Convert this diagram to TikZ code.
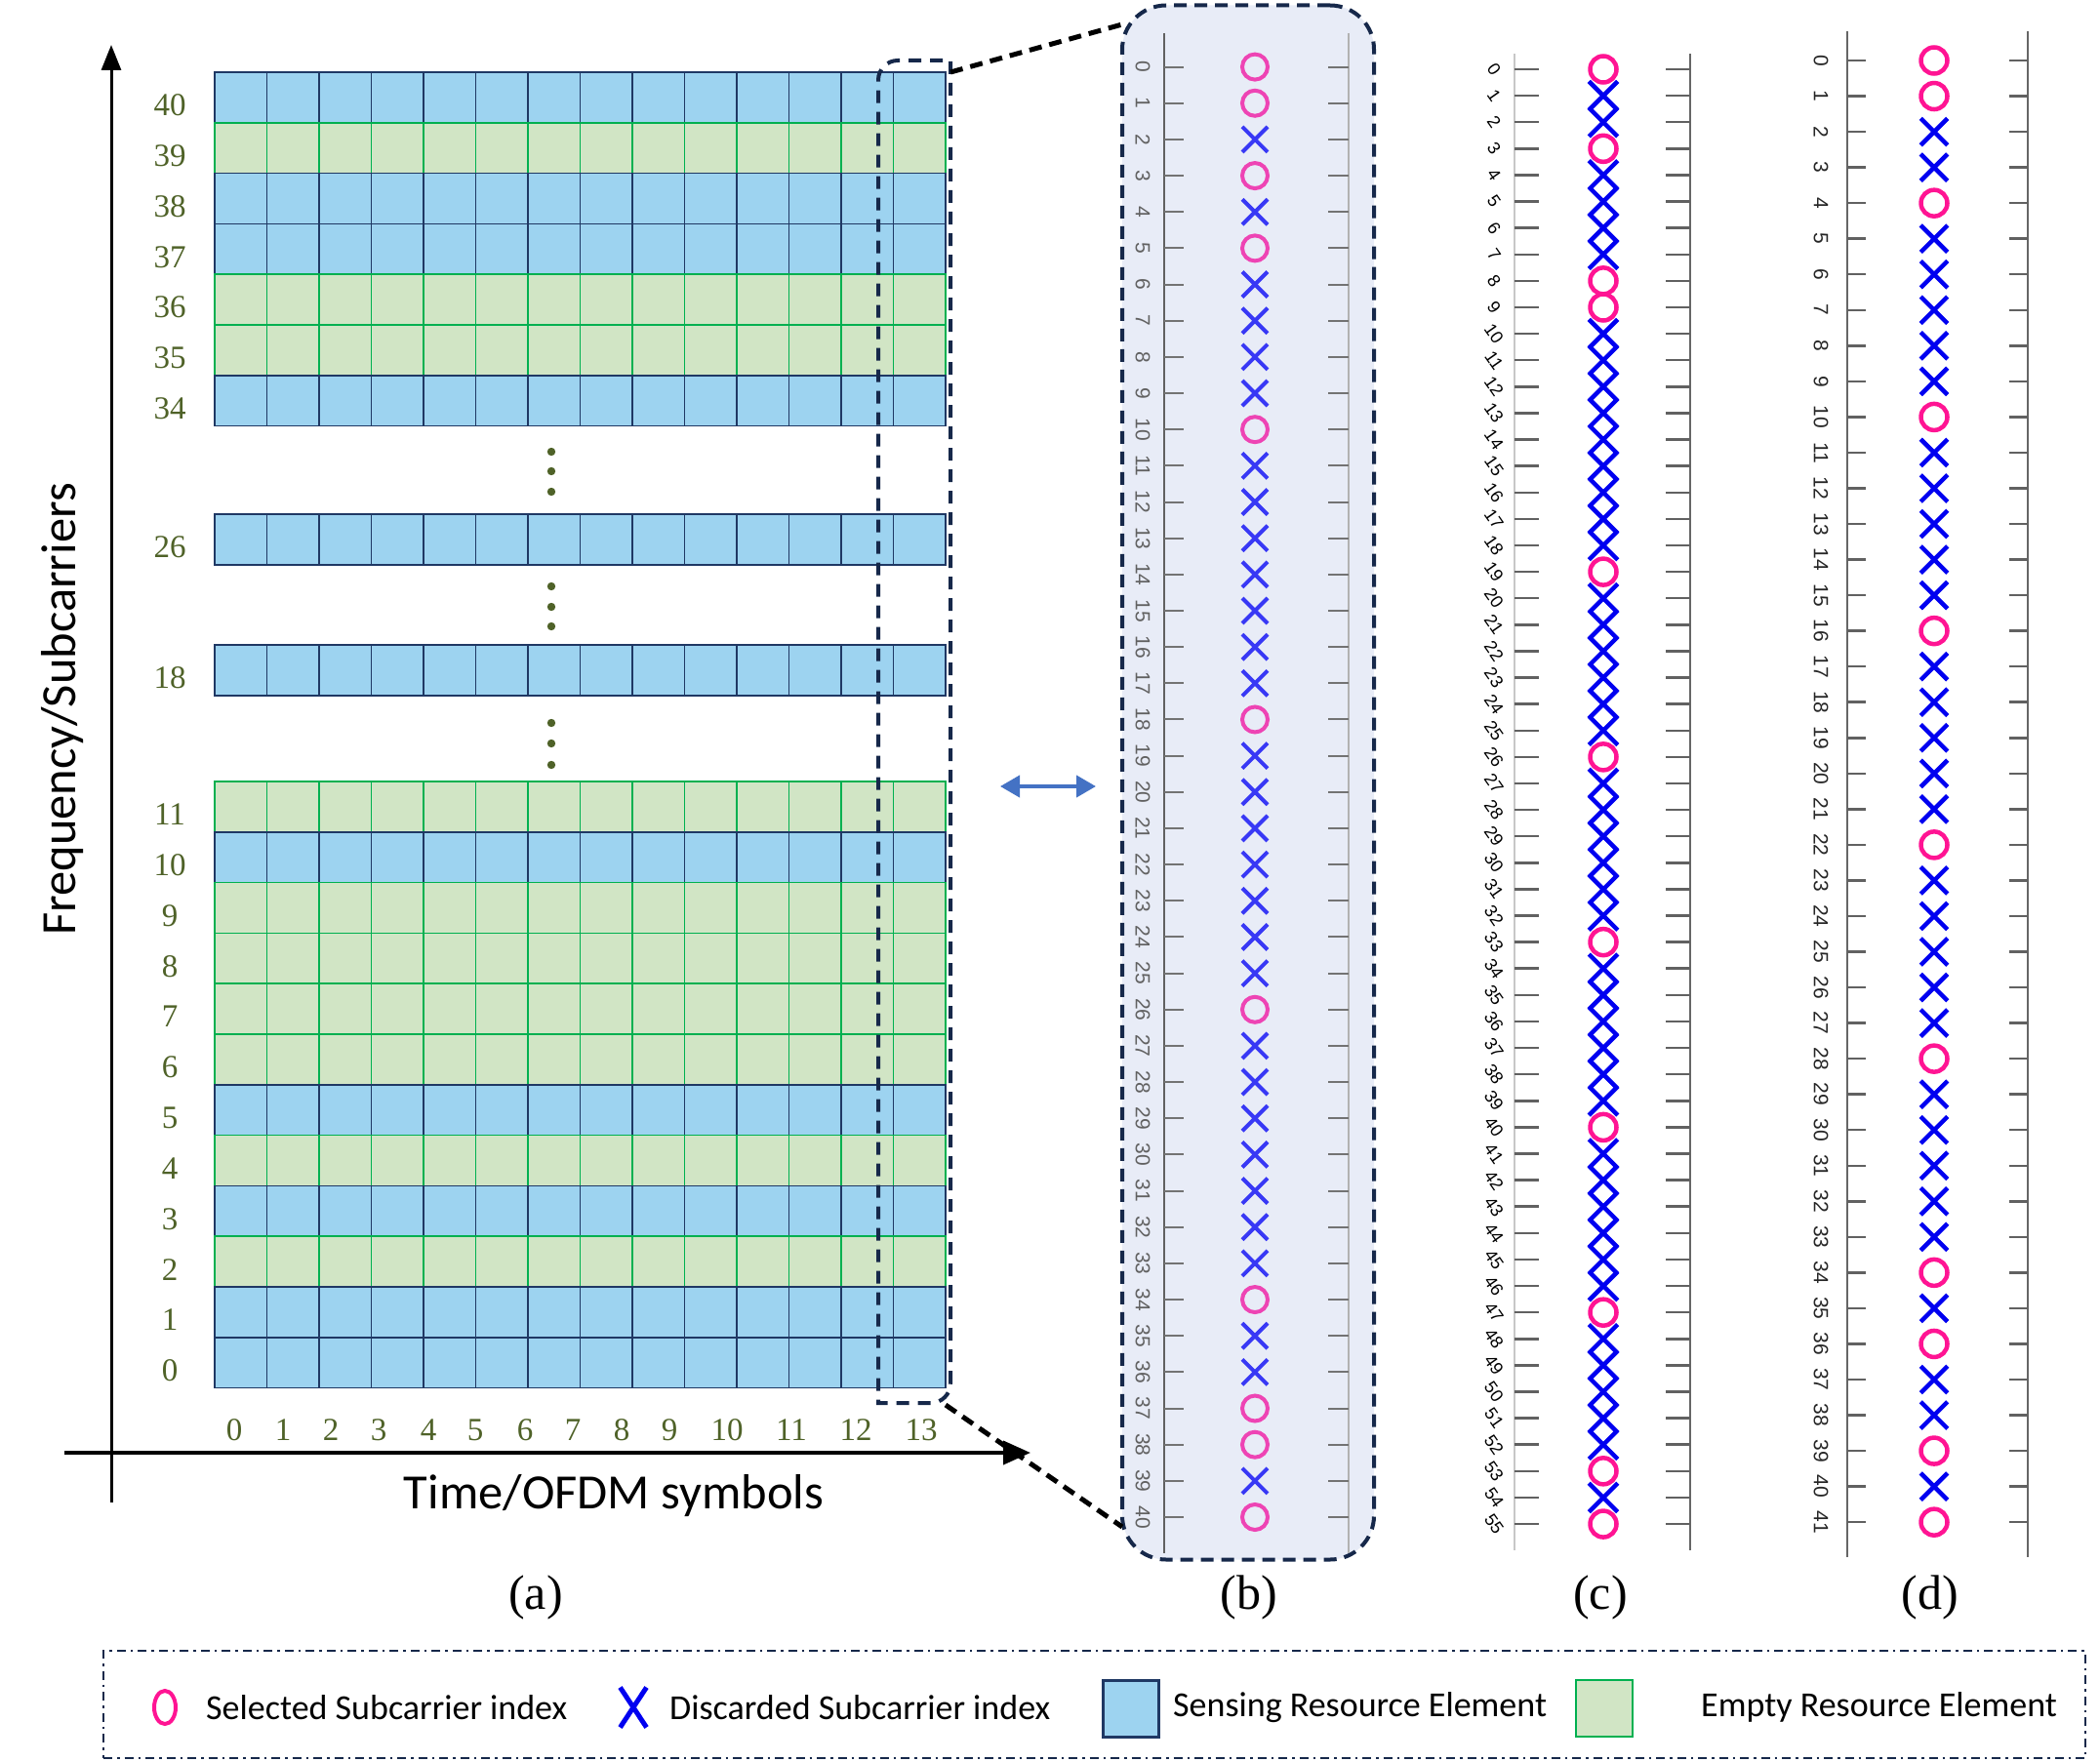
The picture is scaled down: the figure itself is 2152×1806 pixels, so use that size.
\documentclass[tikz,border=0pt]{standalone}
\usepackage{fontspec}
\setmainfont{Liberation Serif}
\newfontfamily\calfont{Carlito}
\newfontfamily\arialfont{Liberation Sans}
\usetikzlibrary{arrows.meta,shapes.misc,shapes.geometric}
\definecolor{senseblue}{HTML}{9DD3F0}
\definecolor{navy}{HTML}{1F3864}
\definecolor{emptygreen}{HTML}{D1E5C5}
\definecolor{egreen}{HTML}{00B050}
\definecolor{olivec}{HTML}{4F6228}
\definecolor{bpink}{HTML}{EE44B4}
\definecolor{bblue}{HTML}{3838F5}
\definecolor{cpink}{HTML}{FF1493}
\definecolor{cblue}{HTML}{0000F0}
\definecolor{lav}{HTML}{E8ECF7}
\definecolor{dnavy}{HTML}{16284A}
\definecolor{arrblue}{HTML}{4472C4}
\tikzset{
  sense/.style={fill=senseblue, draw=navy, line width=1.6pt},
  empt/.style={fill=emptygreen, draw=egreen, line width=1.6pt},
  rowlab/.style={font=\fontsize{33}{33}\selectfont, text=olivec, inner sep=0pt},
  sublab/.style={font=\fontsize{50}{50}\selectfont, inner sep=0pt},
  axislab/.style={font=\calfont\fontsize{50.5}{50.5}\selectfont, inner sep=0pt},
  legtext/.style={font=\calfont\fontsize{36}{36}\selectfont, inner sep=0pt, anchor=west},
  bcirc/.style={circle, draw=bpink, line width=4pt, minimum size=26pt, inner sep=0pt},
  bcross/.style={cross out, draw=bblue, line width=4pt, minimum size=22pt, inner sep=0pt},
  ccirc/.style={circle, draw=cpink, line width=4.5pt, minimum size=27pt, inner sep=0pt},
  ccross/.style={cross out, draw=cblue, line width=4.5pt, minimum size=25pt, inner sep=0pt},
  dcirc/.style={circle, draw=cpink, line width=4.5pt, minimum size=27pt, inner sep=0pt},
  dcross/.style={cross out, draw=cblue, line width=4.5pt, minimum size=23pt, inner sep=0pt},
  ticklab/.style={font=\arialfont\fontsize{21}{21}\selectfont, inner sep=0pt},
  zoomline/.style={draw=black, line width=5pt, dash pattern=on 13pt off 8pt},
}
\begin{document}
\begin{tikzpicture}[x=1pt,y=-1pt]
\useasboundingbox (0,0) rectangle (2152,1806);

% ---------------- panel (a) grid ----------------
\foreach \top/\ty in {74/sense,125.8/empt,177.6/sense,229.4/sense,281.2/empt,333.0/empt,384.8/sense,
                      527/sense,661/sense,
                      801/empt,852.8/sense,904.6/empt,956.4/empt,1008.2/empt,1060/empt,1111.8/sense,
                      1163.6/empt,1215.4/sense,1267.2/empt,1319/sense,1370.8/sense}{
  \foreach \c in {0,...,13}{
    \draw[\ty] ({220+\c*53.5},\top) rectangle ++(53.5,51.8);
  }
}

% row labels
\foreach \lab/\yy in {40/100,39/151.7,38/203.5,37/255.3,36/307.1,35/358.9,34/410.7,26/552.9,18/686.9,
                      11/826.9,10/878.7,9/930.5,8/982.3,7/1034.1,6/1085.9,5/1137.7,4/1189.5,3/1241.3,2/1293.1,1/1344.9,0/1396.7}{
  \node[rowlab] (row\lab) at (174,\yy+8) {\lab};
}
% column labels
\foreach \lab/\xx in {0/240,1/290,2/339,3/388,4/439,5/487,6/538,7/587,8/637,9/686,10/745,11/811,12/877,13/944}{
  \node[rowlab] (col\lab) at (\xx,1466) {\lab};
}
% vertical dots
\foreach \yy in {463,483,504,601,622,642,741,762,784}{
  \fill[olivec] (565,\yy) circle (4.2);
}

% axes
\coordinate (yaxB) at (114,1540);
\coordinate (yaxT) at (114,46);
\coordinate (xaxL) at (66,1489);
\coordinate (xaxR) at (1056,1489);
\draw[line width=3pt, -{Triangle[length=26pt,width=20pt]}] (yaxB) -- (yaxT);
\draw[line width=4pt, -{Triangle[length=28pt,width=24pt]}] (xaxL) -- (xaxR);
\node[axislab, rotate=90] (ylab) at (64,727) {Frequency/Subcarriers};
\node[axislab] (xlab) at (629,1533) {Time/OFDM symbols};

% highlighted column
\draw[draw=dnavy, line width=4pt, dash pattern=on 13pt off 9pt]
  (974,1418) -- (974,62) -- (920,62) .. controls (909,62) and (900,71) .. (900,82)
  -- (900,1438) -- (954,1438) .. controls (965,1438) and (974,1429) .. (974,1418);

% ---------------- panel (b) ----------------
\node[draw=dnavy, fill=lav, line width=4pt, dash pattern=on 13pt off 8pt, rounded corners=45pt,
      minimum width=258pt, minimum height=1593pt, inner sep=0pt] (bbox) at (1279,802) {};
\coordinate (hlTR) at (974,74);
\coordinate (hlBR) at (969,1440);
\coordinate (zA) at (1150,25);
\coordinate (zB) at (1150,1565);
\draw[zoomline] (hlTR) -- (zA);
\draw[zoomline] (hlBR) -- (zB);

\draw[color=black!62, line width=2.5pt] (1193,34) -- (1193,1592);
\draw[color=black!30, line width=2pt] (1382,34) -- (1382,1592);
\foreach \i in {0,...,40}{
  \draw[color=black!55, line width=2pt] (1193,{68.6+37.16*\i}) -- ++(20,0);
  \draw[color=black!55, line width=2pt] (1382,{68.6+37.16*\i}) -- ++(-21,0);
  \node[ticklab, text=black!62, rotate=-90] (bl\i) at (1171,{68.6+37.16*\i}) {\i};
}
\foreach \i in {0,1,3,5,10,18,26,34,37,38,40}{
  \node[bcirc] (bo\i) at (1286,{68.6+37.16*\i}) {};
}
\foreach \i in {2,4,6,7,8,9,11,12,13,14,15,16,17,19,20,21,22,23,24,25,27,28,29,30,31,32,33,35,36,39}{
  \node[bcross] (bx\i) at (1286,{68.6+37.16*\i}) {};
}

% double arrow
\coordinate (daL) at (1025,806);
\coordinate (daR) at (1123,806);
\draw[arrblue, line width=4pt, {Triangle[length=20pt,width=22pt]}-{Triangle[length=20pt,width=22pt]}] (daL) -- (daR);

% ---------------- panel (c) ----------------
\draw[color=black!22, line width=2.5pt] (1552,55) -- (1552,1589);
\draw[color=black!60, line width=2.5pt] (1732,55) -- (1732,1589);
\foreach \i in {0,...,55}{
  \draw[color=black!62, line width=2.5pt] (1552,{71+27.11*\i}) -- ++(25,0);
  \draw[color=black!62, line width=2.5pt] (1732,{71+27.11*\i}) -- ++(-25,0);
  \node[font=\arialfont\fontsize{18}{18}\selectfont, inner sep=0pt, rotate=-55] (cl\i) at (1531,{71+27.11*\i}) {\i};
}
\foreach \i in {0,3,8,9,19,26,33,40,47,53,55}{
  \node[ccirc] (co\i) at (1643,{71+27.11*\i}) {};
}
\foreach \i in {1,2,4,5,6,7,10,11,12,13,14,15,16,17,18,20,21,22,23,24,25,27,28,29,30,31,32,34,35,36,37,38,39,41,42,43,44,45,46,48,49,50,51,52,54}{
  \node[ccross] (cx\i) at (1643,{71+27.11*\i}) {};
}

% ---------------- panel (d) ----------------
\draw[color=black!60, line width=2.5pt] (1893,32) -- (1893,1596);
\draw[color=black!60, line width=2.5pt] (2078,32) -- (2078,1596);
\foreach \i in {0,...,41}{
  \draw[color=black!62, line width=2.5pt] (1893,{62+36.54*\i}) -- ++(19,0);
  \draw[color=black!62, line width=2.5pt] (2078,{62+36.54*\i}) -- ++(-19,0);
  \node[ticklab, text=black!85, rotate=-90] (dl\i) at (1866,{62+36.54*\i}) {\i};
}
\foreach \i in {0,1,4,10,16,22,28,34,36,39,41}{
  \node[dcirc] (do\i) at (1982,{62+36.54*\i}) {};
}
\foreach \i in {2,3,5,6,7,8,9,11,12,13,14,15,17,18,19,20,21,23,24,25,26,27,29,30,31,32,33,35,37,38,40}{
  \node[dcross] (dx\i) at (1982,{62+36.54*\i}) {};
}

% sub-figure labels
\node[sublab] (capa) at (549,1637) {(a)};
\node[sublab] (capb) at (1280,1637) {(b)};
\node[sublab] (capc) at (1640,1637) {(c)};
\node[sublab] (capd) at (1978,1637) {(d)};

% ---------------- legend ----------------
\node[draw=dnavy, line width=2.5pt, dash pattern=on 9pt off 5pt on 2.5pt off 5pt,
      minimum width=2031pt, minimum height=110pt, inner sep=0pt] (legbox) at (1121.5,1747) {};
\node[ellipse, draw=cpink, line width=4pt, minimum width=22pt, minimum height=34pt, inner sep=0pt] (legO) at (169,1750) {};
\node[legtext] (legOt) at (211,1750) {Selected Subcarrier index};
\node[cross out, draw=cblue, line width=5pt, minimum width=22pt, minimum height=36pt, inner sep=0pt] (legX) at (649,1750) {};
\node[legtext] (legXt) at (686,1750) {Discarded Subcarrier index};
\node[sense, line width=3pt, minimum width=57pt, minimum height=58pt, inner sep=0pt] (legS) at (1158.5,1751) {};
\node[legtext] (legSt) at (1202,1750) {Sensing Resource Element};
\node[empt, line width=2.5pt, minimum width=58pt, minimum height=58pt, inner sep=0pt] (legE) at (1644,1751) {};
\node[legtext] (legEt) at (1743,1750) {Empty Resource Element};
\end{tikzpicture}
\end{document}
